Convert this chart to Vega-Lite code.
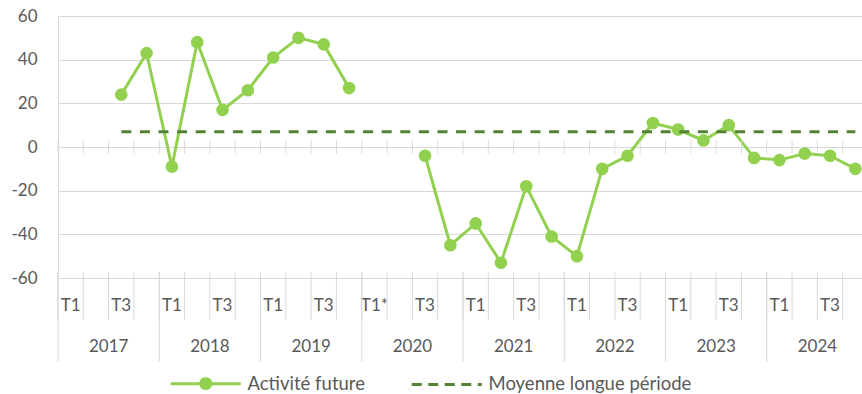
{
  "$schema": "https://vega.github.io/schema/vega-lite/v6.json",
  "width": 804,
  "height": 262,
  "autosize": {"type": "none"},
  "padding": {"left": 58, "top": 16, "right": 0, "bottom": 116},
  "config": {
    "view": {"stroke": null},
    "font": "Lato",
    "axis": {"labelFont": "Lato", "labelColor": "#595959", "labelFontSize": 17, "title": null}
  },
  "data": {
    "values": [
      {"periode": "2017-T1", "annee": "2017", "activite": null, "moyenne": null},
      {"periode": "2017-T2", "annee": "2017", "activite": null, "moyenne": null},
      {"periode": "2017-T3", "annee": "2017", "activite": 24, "moyenne": 7},
      {"periode": "2017-T4", "annee": "2017", "activite": 43, "moyenne": 7},
      {"periode": "2018-T1", "annee": "2018", "activite": -9, "moyenne": 7},
      {"periode": "2018-T2", "annee": "2018", "activite": 48, "moyenne": 7},
      {"periode": "2018-T3", "annee": "2018", "activite": 17, "moyenne": 7},
      {"periode": "2018-T4", "annee": "2018", "activite": 26, "moyenne": 7},
      {"periode": "2019-T1", "annee": "2019", "activite": 41, "moyenne": 7},
      {"periode": "2019-T2", "annee": "2019", "activite": 50, "moyenne": 7},
      {"periode": "2019-T3", "annee": "2019", "activite": 47, "moyenne": 7},
      {"periode": "2019-T4", "annee": "2019", "activite": 27, "moyenne": 7},
      {"periode": "2020-T1", "annee": "2020", "activite": null, "moyenne": 7},
      {"periode": "2020-T2", "annee": "2020", "activite": null, "moyenne": 7},
      {"periode": "2020-T3", "annee": "2020", "activite": -4, "moyenne": 7},
      {"periode": "2020-T4", "annee": "2020", "activite": -45, "moyenne": 7},
      {"periode": "2021-T1", "annee": "2021", "activite": -35, "moyenne": 7},
      {"periode": "2021-T2", "annee": "2021", "activite": -53, "moyenne": 7},
      {"periode": "2021-T3", "annee": "2021", "activite": -18, "moyenne": 7},
      {"periode": "2021-T4", "annee": "2021", "activite": -41, "moyenne": 7},
      {"periode": "2022-T1", "annee": "2022", "activite": -50, "moyenne": 7},
      {"periode": "2022-T2", "annee": "2022", "activite": -10, "moyenne": 7},
      {"periode": "2022-T3", "annee": "2022", "activite": -4, "moyenne": 7},
      {"periode": "2022-T4", "annee": "2022", "activite": 11, "moyenne": 7},
      {"periode": "2023-T1", "annee": "2023", "activite": 8, "moyenne": 7},
      {"periode": "2023-T2", "annee": "2023", "activite": 3, "moyenne": 7},
      {"periode": "2023-T3", "annee": "2023", "activite": 10, "moyenne": 7},
      {"periode": "2023-T4", "annee": "2023", "activite": -5, "moyenne": 7},
      {"periode": "2024-T1", "annee": "2024", "activite": -6, "moyenne": 7},
      {"periode": "2024-T2", "annee": "2024", "activite": -3, "moyenne": 7},
      {"periode": "2024-T3", "annee": "2024", "activite": -4, "moyenne": 7},
      {"periode": "2024-T4", "annee": "2024", "activite": -10, "moyenne": 7}
    ]
  },
  "encoding": {
    "x": {
      "field": "periode", "type": "ordinal",
      "scale": {"type": "band", "paddingInner": 0, "paddingOuter": 0, "range": [0, 810]},
      "axis": {
        "orient": "bottom", "domain": false, "grid": false, "ticks": false,
        "labelExpr": "datum.value == '2020-T1' ? 'T1*' : (slice(datum.value, 5) == 'T1' || slice(datum.value, 5) == 'T3') ? slice(datum.value, 5) : ''",
        "labelAngle": 0, "labelBaseline": "middle", "labelPadding": 27, "labelOverlap": false
      }
    }
  },
  "layer": [
    {
      "mark": {"type": "line", "strokeWidth": 3},
      "transform": [{"filter": "datum.periode < '2020'"}],
      "encoding": {
        "y": {
          "field": "activite", "type": "quantitative",
          "scale": {"domain": [-60, 60], "nice": false, "zero": false},
          "axis": {
            "values": [-60, -40, -20, 0, 20, 40, 60],
            "labelExpr": "'' + datum.value",
            "grid": true, "gridColor": "#d9d9d9", "gridWidth": 1,
            "domain": true, "domainColor": "#d9d9d9", "domainWidth": 1,
            "ticks": false, "labelPadding": 21
          }
        },
        "color": {
          "datum": "Activité future",
          "scale": {"domain": ["Activité future", "Moyenne longue période"], "range": ["#92D050", "#548235"]},
          "legend": {
            "orient": "none", "legendX": 108.5, "legendY": 358, "direction": "horizontal",
            "title": null, "padding": 0,
            "labelFont": "Lato", "labelFontSize": 18.5, "labelColor": "#595959", "labelLimit": 0,
            "symbolSize": 100, "symbolStrokeWidth": 3, "labelOffset": 62.5, "columnPadding": 40,
            "encode": {
              "symbols": {
                "update": {
                  "shape": {"signal": "datum.value === 'Activité future' ? 'M-1,0L13,0M5,0A1,1,0,1,1,7,0A1,1,0,1,1,5,0Z' : 'M-1,0L13,0'"},
                  "strokeDash": {"signal": "datum.value === 'Activité future' ? [1,0] : [10,6.5]"},
                  "fill": {"signal": "datum.value === 'Activité future' ? '#92D050' : 'transparent'"},
                  "stroke": {"signal": "datum.value === 'Activité future' ? '#92D050' : '#548235'"},
                  "strokeWidth": {"value": 3}
                }
              }
            }
          }
        }
      }
    },
    {
      "transform": [{"filter": "datum.periode > '2020'"}],
      "mark": {"type": "line", "strokeWidth": 3},
      "encoding": {
        "y": {"field": "activite", "type": "quantitative"},
        "color": {"datum": "Activité future"}
      }
    },
    {
      "mark": {"type": "point", "filled": true, "color": "#92D050", "size": 160, "opacity": 1},
      "encoding": {
        "y": {"field": "activite", "type": "quantitative"}
      }
    },
    {
      "mark": {"type": "line", "strokeWidth": 3, "strokeDash": [10, 8.6]},
      "encoding": {
        "y": {"field": "moyenne", "type": "quantitative"},
        "color": {"datum": "Moyenne longue période"}
      }
    },
    {
      "mark": {"type": "rule", "color": "#d9d9d9", "strokeWidth": 1},
      "encoding": {
        "x": {"field": "periode", "type": "ordinal", "bandPosition": 0},
        "y": {"datum": 3, "type": "quantitative"},
        "y2": {"datum": -3}
      }
    },
    {
      "mark": {"type": "rule", "color": "#d9d9d9", "strokeWidth": 1},
      "encoding": {
        "x": {"field": "periode", "type": "ordinal", "bandPosition": 0},
        "y": {"datum": -57.25, "type": "quantitative"},
        "y2": {"datum": -79.3}
      }
    },
    {
      "transform": [{"filter": "slice(datum.periode, 5) == 'T1'"}],
      "mark": {"type": "rule", "color": "#d9d9d9", "strokeWidth": 1},
      "encoding": {
        "x": {"field": "periode", "type": "ordinal", "bandPosition": 0},
        "y": {"datum": -57.25, "type": "quantitative"},
        "y2": {"datum": -98.5}
      }
    },
    {
      "transform": [{"filter": "slice(datum.periode, 5) == 'T3'"}],
      "mark": {"type": "text", "color": "#595959", "font": "Lato", "fontSize": 17, "baseline": "middle", "align": "center"},
      "encoding": {
        "x": {"field": "periode", "type": "ordinal", "bandPosition": 0},
        "y": {"datum": -91.6, "type": "quantitative"},
        "text": {"field": "annee"}
      }
    }
  ]
}
